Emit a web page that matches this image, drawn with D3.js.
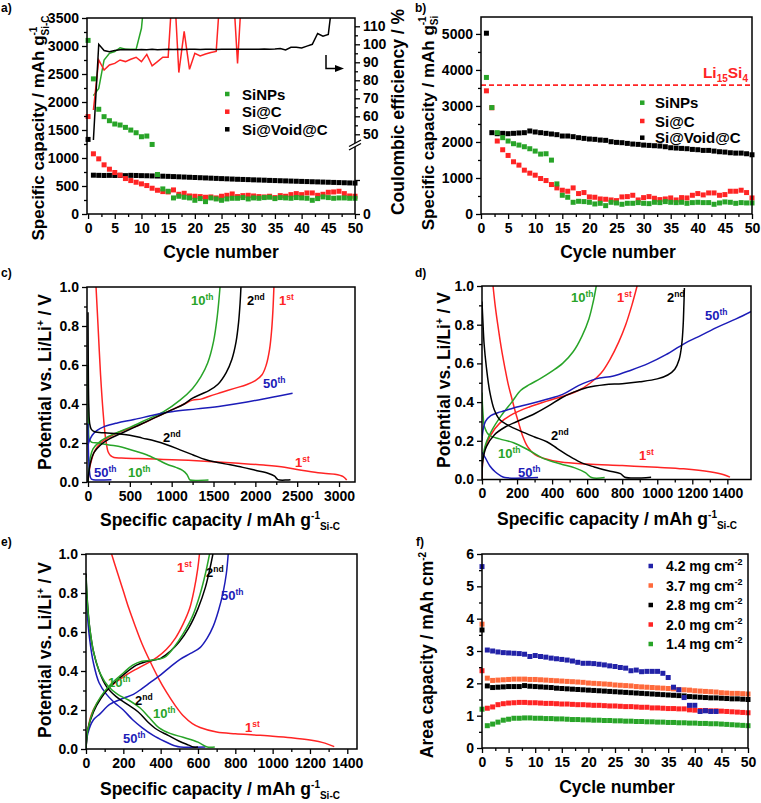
<!DOCTYPE html>
<html><head><meta charset="utf-8">
<script src="https://cdn.jsdelivr.net/npm/d3@7"></script>
<style>
body{margin:0;background:#fff;}
text{font-family:"Liberation Sans",Arial,sans-serif;font-weight:bold;}
</style></head><body>
<script>
// ---------------- DATA ----------------
const cycles = [0,1,2,3,4,5,6,7,8,9,10,11,12,13,14,15,16,17,18,19,20,21,22,23,24,25,26,27,28,29,30,31,32,33,34,35,36,37,38,39,40,41,42,43,44,45,46,47,48,49,50];
// panel a: specific capacity (mAh g-1 Si-C), cycles 0..50
const aSiNPs = [3100,2413,1870,1738,1666,1607,1589,1547,1499,1451,1380,1392,1242,705,448,406,287,317,299,287,245,275,221,287,269,245,269,281,281,293,269,287,281,293,299,275,293,287,281,293,287,281,245,275,305,293,281,287,287,281,281];
const aSiC = [1740,1075,985,878,800,741,693,633,597,567,538,508,460,424,400,394,430,352,370,322,317,311,299,305,287,317,334,358,311,328,334,322,311,305,317,293,328,317,346,364,346,376,376,334,352,388,394,406,364,322,317];
const aVoid = [1332,693,690,688,690,688,690,685,690,688,685,683,680,678,675,672,668,664,660,656,652,648,644,640,636,632,628,624,620,617,614,610,607,604,600,597,594,591,588,585,582,579,576,573,570,567,564,561,558,555,552];
// panel a: coulombic efficiency (%), starting at cycle 1 (values above axis are off-scale)
const ceSiNPs = [71.5,75.5,91.3,95,96,98.1,97.2,97.2,97.2,108.9,140];
const ceSiC = [63.5,91.3,85.7,88.5,89.4,91.3,90.4,91.7,92.8,90.4,94.4,88.1,90.4,92.8,92.8,140,84.3,107.2,86.1,95,93.5,94.6,95.4,96,140,140,140,89.4,140];
const ceVoid = [46.8,100,96.5,95.9,96.5,97,97.1,97,97,97.1,97,97.2,97,97.1,97.2,97.1,97.2,97.1,97.2,97.2,97.1,97.2,97.2,97.1,97.2,97.3,97.2,97.2,97.3,97.2,97.3,97.3,97.4,97.3,97.4,97.6,96.9,98.3,98.3,98,99,100,106,104.5,105.5,130];
// panel b: specific capacity (mAh g-1 Si), cycles 1..50
const bSiNPs = [3792,2955,2258,2119,2026,1952,1914,1868,1812,1747,1664,1673,1496,836,520,465,325,353,344,325,279,297,232,325,307,270,297,297,316,297,288,325,316,344,325,316,325,297,316,325,316,316,270,307,335,325,297,316,307,307];
const bSiC = [3420,2950,2026,1784,1626,1450,1357,1217,1134,1078,985,929,818,725,660,632,725,567,595,474,465,418,409,390,372,474,483,520,390,455,483,437,400,418,446,390,455,446,520,567,530,585,585,520,539,632,632,660,595,446];
const bVoid = [5020,2258,2230,2240,2230,2240,2250,2258,2305,2277,2258,2240,2221,2203,2165,2165,2147,2119,2100,2082,2073,2054,2045,2007,1989,1980,1961,1942,1933,1914,1905,1896,1887,1868,1840,1831,1822,1813,1794,1785,1766,1766,1747,1729,1719,1701,1691,1691,1673,1645];
const li15si4 = 3579;
// panel c: [capacity mAh/g, potential V]
const cDis1 = [[96,1.0],[120,0.8],[150,0.55],[180,0.36],[205,0.24],[222,0.19],[240,0.155],[270,0.135],[310,0.126],[400,0.123],[600,0.12],[900,0.116],[1200,0.111],[1500,0.104],[1800,0.096],[2100,0.087],[2350,0.076],[2550,0.06],[2750,0.047],[2950,0.04],[3050,0.028],[3092,0.01]];
const cCha1 = [[0,0],[15,0.06],[40,0.11],[80,0.16],[150,0.2],[250,0.23],[400,0.26],[600,0.29],[800,0.33],[1000,0.37],[1150,0.4],[1250,0.42],[1350,0.425],[1450,0.44],[1600,0.46],[1750,0.48],[1900,0.5],[2000,0.52],[2080,0.55],[2130,0.6],[2170,0.68],[2195,0.78],[2210,0.88],[2222,1.0]];
const cDis2 = [[0,0.87],[2,0.7],[5,0.5],[10,0.38],[20,0.3],[40,0.27],[80,0.258],[200,0.252],[350,0.248],[500,0.24],[650,0.225],[800,0.21],[950,0.19],[1100,0.165],[1250,0.14],[1400,0.115],[1550,0.1],[1700,0.088],[1850,0.075],[2000,0.06],[2150,0.045],[2230,0.03],[2270,0.012],[2420,0.012]];
const cCha2 = [[0,0],[10,0.05],[30,0.1],[70,0.15],[150,0.19],[250,0.22],[400,0.25],[600,0.29],[800,0.33],[1000,0.37],[1150,0.4],[1250,0.43],[1350,0.45],[1450,0.47],[1550,0.5],[1650,0.56],[1720,0.63],[1770,0.72],[1800,0.82],[1818,0.92],[1828,1.0]];
const cDis10 = [[0,0.6],[2,0.4],[6,0.28],[15,0.22],[40,0.205],[120,0.2],[250,0.19],[400,0.18],[550,0.16],[700,0.14],[850,0.11],[950,0.09],[1050,0.075],[1130,0.06],[1180,0.04],[1210,0.015],[1220,0.01],[1440,0.01]];
const cCha10 = [[0,0],[8,0.06],[25,0.12],[60,0.17],[150,0.21],[300,0.245],[500,0.28],[700,0.32],[900,0.36],[1100,0.42],[1250,0.48],[1350,0.54],[1430,0.61],[1500,0.72],[1545,0.85],[1578,1.0]];
const cDis50 = [[0,0.3],[3,0.2],[8,0.12],[15,0.07],[25,0.03],[40,0.015],[60,0.012],[280,0.012]];
const cCha50 = [[0,0.19],[15,0.21],[50,0.24],[100,0.262],[200,0.285],[350,0.303],[550,0.32],[800,0.345],[1000,0.36],[1300,0.375],[1600,0.39],[1900,0.41],[2200,0.435],[2445,0.455]];
// panel d
const dDis1 = [[63,1.0],[75,0.9],[90,0.8],[110,0.68],[130,0.58],[150,0.49],[170,0.42],[190,0.35],[210,0.29],[230,0.23],[260,0.17],[300,0.13],[350,0.11],[450,0.09],[600,0.08],[800,0.072],[1000,0.063],[1150,0.055],[1300,0.04],[1380,0.025],[1415,0.012]];
const dCha1 = [[0,0],[5,0.1],[20,0.17],[50,0.23],[100,0.29],[180,0.34],[270,0.375],[370,0.405],[460,0.43],[550,0.46],[620,0.5],[680,0.55],[730,0.62],[780,0.71],[820,0.8],[855,0.9],[885,1.0]];
const dDis2 = [[0,0.92],[5,0.82],[12,0.7],[25,0.58],[45,0.45],[70,0.36],[100,0.31],[150,0.28],[220,0.25],[300,0.22],[370,0.195],[430,0.16],[490,0.125],[560,0.09],[640,0.065],[720,0.045],[790,0.03],[815,0.012],[965,0.012]];
const dCha2 = [[0,0],[5,0.1],[25,0.17],[70,0.23],[130,0.27],[200,0.3],[300,0.34],[380,0.38],[450,0.42],[520,0.45],[600,0.475],[700,0.49],[800,0.495],[900,0.505],[1000,0.52],[1060,0.54],[1100,0.57],[1125,0.62],[1140,0.7],[1148,0.8],[1152,0.9],[1155,0.99]];
const dDis10 = [[0,0.45],[5,0.35],[15,0.27],[40,0.23],[100,0.21],[180,0.19],[270,0.15],[360,0.105],[450,0.08],[530,0.06],[590,0.035],[625,0.01],[700,0.01]];
const dCha10 = [[0,0.05],[3,0.1],[20,0.18],[60,0.26],[110,0.33],[170,0.4],[220,0.46],[270,0.49],[330,0.52],[400,0.56],[460,0.6],[520,0.66],[570,0.74],[610,0.83],[635,0.92],[652,1.0]];
const dDis50 = [[0,0.14],[20,0.11],[45,0.07],[75,0.04],[105,0.02],[130,0.01],[320,0.01]];
const dCha50 = [[0,0.2],[5,0.25],[20,0.3],[50,0.33],[90,0.345],[130,0.355],[180,0.37],[270,0.39],[370,0.415],[460,0.44],[550,0.485],[650,0.52],[750,0.535],[850,0.565],[950,0.6],[1050,0.645],[1150,0.7],[1250,0.745],[1350,0.79],[1450,0.83],[1540,0.87]];
// panel e
const eDis1 = [[137,1.0],[170,0.9],[200,0.81],[230,0.72],[260,0.64],[300,0.54],[343,0.45],[390,0.36],[432,0.29],[480,0.22],[521,0.17],[570,0.13],[611,0.11],[700,0.087],[800,0.078],[900,0.072],[1000,0.066],[1100,0.058],[1200,0.046],[1280,0.03],[1330,0.012]];
const eCha1 = [[0,0],[10,0.1],[30,0.18],[70,0.25],[120,0.31],[200,0.37],[270,0.41],[330,0.44],[380,0.47],[430,0.51],[480,0.57],[520,0.64],[555,0.72],[580,0.82],[598,0.92],[608,1.0]];
const eDis2 = [[0,0.9],[8,0.75],[20,0.62],[40,0.5],[70,0.4],[110,0.32],[160,0.27],[220,0.23],[280,0.19],[330,0.14],[380,0.1],[440,0.07],[500,0.04],[550,0.02],[575,0.01],[600,0.01]];
const eCha2 = [[0,0],[10,0.1],[40,0.19],[80,0.26],[130,0.32],[200,0.38],[270,0.43],[330,0.45],[400,0.465],[450,0.5],[500,0.55],[550,0.62],[600,0.72],[640,0.83],[665,0.93],[680,1.0]];
const eDis10 = [[0,0.88],[8,0.74],[20,0.62],[45,0.48],[80,0.38],[120,0.32],[170,0.28],[230,0.25],[290,0.21],[340,0.16],[390,0.11],[450,0.08],[520,0.06],[600,0.035],[650,0.01],[690,0.01]];
const eCha10 = [[0,0],[10,0.1],[40,0.2],[80,0.27],[130,0.33],[200,0.39],[250,0.43],[300,0.45],[350,0.455],[420,0.47],[470,0.52],[520,0.59],[570,0.68],[610,0.79],[640,0.9],[662,1.0]];
const eDis50 = [[0,0.82],[8,0.68],[20,0.56],[40,0.44],[70,0.34],[110,0.28],[150,0.24],[200,0.2],[250,0.15],[300,0.11],[360,0.07],[420,0.04],[480,0.015],[505,0.01],[640,0.01]];
const eCha50 = [[0,0],[10,0.08],[40,0.15],[75,0.18],[129,0.23],[200,0.26],[254,0.28],[300,0.31],[343,0.34],[400,0.38],[450,0.42],[504,0.46],[560,0.49],[611,0.52],[650,0.57],[682,0.63],[710,0.71],[736,0.81],[752,0.9],[762,1.0]];
// panel f: area capacity (mAh cm-2)
const f42 = [5.61,3.03,3.0,2.97,2.95,2.94,2.93,2.92,2.9,2.83,2.86,2.83,2.81,2.78,2.76,2.74,2.72,2.69,2.65,2.62,2.62,2.61,2.59,2.57,2.54,2.52,2.49,2.47,2.39,2.41,2.36,2.37,2.37,2.37,2.31,2.18,1.88,1.8,1.56,1.32,1.32,1.13,1.15,1.13,1.13];
const f37 = [3.83,2.16,2.09,2.1,2.11,2.12,2.13,2.13,2.13,2.12,2.12,2.11,2.1,2.09,2.08,2.07,2.06,2.05,2.04,2.03,2.01,2.0,1.99,1.98,1.97,1.95,1.94,1.93,1.92,1.9,1.89,1.88,1.87,1.86,1.85,1.84,1.83,1.81,1.8,1.79,1.77,1.76,1.75,1.74,1.73,1.71,1.7,1.69,1.69,1.68,1.67];
const f28 = [3.65,1.92,1.87,1.88,1.89,1.9,1.9,1.9,1.93,1.91,1.9,1.89,1.88,1.87,1.85,1.84,1.83,1.82,1.81,1.8,1.79,1.78,1.77,1.76,1.75,1.74,1.73,1.72,1.71,1.7,1.69,1.68,1.67,1.66,1.65,1.64,1.63,1.62,1.61,1.59,1.58,1.57,1.56,1.55,1.55,1.54,1.53,1.52,1.52,1.51,1.5];
const f20 = [2.39,1.23,1.27,1.34,1.37,1.39,1.4,1.41,1.41,1.4,1.4,1.39,1.38,1.38,1.37,1.36,1.36,1.35,1.34,1.34,1.33,1.32,1.32,1.31,1.3,1.3,1.29,1.28,1.28,1.27,1.26,1.26,1.24,1.24,1.23,1.22,1.22,1.21,1.21,1.18,1.17,1.16,1.16,1.15,1.15,1.14,1.13,1.12,1.11,1.1,1.09];
const f14 = [1.2,0.69,0.74,0.8,0.86,0.89,0.92,0.92,0.93,0.93,0.92,0.92,0.91,0.91,0.9,0.9,0.89,0.88,0.88,0.87,0.87,0.86,0.86,0.85,0.85,0.84,0.84,0.83,0.83,0.82,0.82,0.81,0.81,0.8,0.8,0.79,0.79,0.78,0.78,0.77,0.77,0.76,0.76,0.75,0.75,0.74,0.73,0.72,0.71,0.7,0.69];
const fLegend = ["4.2 mg cm","3.7 mg cm","2.8 mg cm","2.0 mg cm","1.4 mg cm"];
const abLegend = ["SiNPs","Si@C","Si@Void@C"];
// ticks
const cycleTicks = [0,5,10,15,20,25,30,35,40,45,50];
const cycleMinor = [2.5,7.5,12.5,17.5,22.5,27.5,32.5,37.5,42.5,47.5];
const aYTicks = [0,500,1000,1500,2000,2500,3000,3500];
const aYMinor = [250,750,1250,1750,2250,2750,3250];
const ceTicks = [50,60,70,80,90,100,110];
const ceMinor = [55,65,75,85,95,105];
const bYTicks = [0,1000,2000,3000,4000,5000];
const bYMinor = [500,1500,2500,3500,4500];
const cXTicks = [0,500,1000,1500,2000,2500,3000];
const cXMinor = [250,750,1250,1750,2250,2750];
const deXTicks = [0,200,400,600,800,1000,1200,1400];
const deXMinor = [100,300,500,700,900,1100,1300];
const vTicks = [0,0.2,0.4,0.6,0.8,1.0];
const vMinor = [0.1,0.3,0.5,0.7,0.9];
const fYTicks = [0,1,2,3,4,5,6];
const fYMinor = [0.5,1.5,2.5,3.5,4.5,5.5];

// ---------------- DRAWING ----------------
const COL = {green:"#28a428", red:"#ff2424", black:"#000000", blue:"#1c1cb8", orange:"#ff6a3c", fblue:"#2222a8"};
const TICK = 14, TITLE = 17.5;
const svg = d3.select("body").append("svg").attr("width",761).attr("height",803).style("display","block");
const defs = svg.append("defs");

function makePanel(id, xDom, xRange, yDom, yRange){
  const x = d3.scaleLinear().domain(xDom).range(xRange);
  const y = d3.scaleLinear().domain(yDom).range(yRange);
  defs.append("clipPath").attr("id","clip-"+id).append("rect")
    .attr("x",xRange[0]).attr("y",yRange[1]).attr("width",xRange[1]-xRange[0]).attr("height",yRange[0]-yRange[1]);
  return {x,y,clip:`url(#clip-${id})`};
}
function axis(kind, scale, tx, ty, majors, minors, fmt){
  const gen = {bottom:d3.axisBottom,left:d3.axisLeft,right:d3.axisRight}[kind];
  const gmin = svg.append("g").attr("transform",`translate(${tx},${ty})`)
    .call(gen(scale).tickValues(minors).tickSize(3).tickFormat(""));
  gmin.select(".domain").remove();
  gmin.selectAll("line").attr("stroke-width",1.3);
  const gmaj = svg.append("g").attr("transform",`translate(${tx},${ty})`)
    .call(gen(scale).tickValues(majors).tickSize(5).tickPadding(kind==="bottom"?4:3).tickFormat(fmt));
  gmaj.select(".domain").remove();
  gmaj.attr("font-family",null).attr("font-size",null);
  gmaj.selectAll("line").attr("stroke-width",1.3);
  gmaj.selectAll("text").attr("font-size",TICK).attr("fill","#000");
  return gmaj;
}
function frame(P){
  const [x0,x1]=P.x.range(), [y0,y1]=P.y.range();
  svg.append("rect").attr("x",x0).attr("y",y1).attr("width",x1-x0).attr("height",y0-y1)
    .attr("fill","none").attr("stroke","#000").attr("stroke-width",1.5);
}
function squares(P, xs, ys, color, size){
  size = size||5;
  svg.append("g").selectAll("rect").data(ys).join("rect")
    .attr("x",(d,i)=>P.x(xs[i])-size/2).attr("y",d=>P.y(d)-size/2)
    .attr("width",size).attr("height",size).attr("fill",color);
}
function curve(P, pts, color){
  svg.append("path").datum(pts).attr("clip-path",P.clip).attr("fill","none")
    .attr("stroke",color).attr("stroke-width",1.5).attr("stroke-linejoin","round")
    .attr("d", d3.line().x(d=>P.x(d[0])).y(d=>P.y(d[1])).curve(d3.curveCatmullRom.alpha(0.5)));
}
function rich(parent, x, y, parts, size, color, anchor){
  const t = parent.append("text").attr("x",x).attr("y",y).attr("font-size",size)
    .attr("fill",color||"#000").attr("text-anchor",anchor||"start");
  let prev=null;
  parts.forEach(p=>{
    const s = t.append("tspan").text(p.t);
    if(p.size) s.attr("font-size",p.size);
    if(p.dy) s.attr("dy",p.dy);
    if(p.back && prev) s.attr("dx", -prev.node().getComputedTextLength());
    prev = s;
  });
  return t;
}
function rotTitle(x, y, parts, size){
  const g = svg.append("g").attr("transform",`translate(${x},${y}) rotate(-90)`);
  rich(g, 0, 0, parts, size, "#000", "middle");
}
function ordLabel(x, y, num, sup, color){
  rich(svg, x, y, [{t:num},{t:sup,size:8.5,dy:-5}], 13, color);
}
function panelLetter(x,y,t){ svg.append("text").attr("x",x).attr("y",y).attr("font-size",12).text(t); }

// ---------- panel a ----------
const A = makePanel("a",[-0.2,50],[87,355],[0,3500],[214,18]);
const yCE = d3.scaleLinear().domain([50,110]).range([134.3,26.3]);
const ceLine = d3.line().x(d=>A.x(d[0])).y(d=>yCE(d[1]));
[[ceSiNPs,COL.green],[ceSiC,COL.red],[ceVoid,COL.black]].forEach(([arr,c])=>{
  svg.append("path").datum(arr.map((v,i)=>[cycles[i+1],v])).attr("clip-path",A.clip)
    .attr("fill","none").attr("stroke",c).attr("stroke-width",1.5).attr("d",ceLine);
});
squares(A, cycles, aVoid, COL.black);
squares(A, cycles, aSiC, COL.red);
squares(A, cycles, aSiNPs, COL.green);
frame(A);
axis("bottom", A.x, 0, 214, cycleTicks, cycleMinor, d3.format("d"));
axis("left", A.y, 87, 0, aYTicks, aYMinor, d3.format("d"));
axis("right", yCE, 355, 0, ceTicks, ceMinor, d3.format("d"));
const yCElow = d3.scaleLinear().domain([0,10]).range([214,180]);
axis("right", yCElow, 355, 0, [0,10], [], d=>d===0?"0":"");
svg.append("polygon").attr("points","349,146.5 361,140 361,143.5 349,150").attr("fill","#fff");
svg.append("line").attr("x1",349).attr("y1",146.5).attr("x2",361).attr("y2",140).attr("stroke","#000").attr("stroke-width",1.3);
svg.append("line").attr("x1",349).attr("y1",150).attr("x2",361).attr("y2",143.5).attr("stroke","#000").attr("stroke-width",1.3);
svg.append("path").attr("d","M326,55 V68.5 H336").attr("fill","none").attr("stroke","#000").attr("stroke-width",1.5);
svg.append("path").attr("d","M335,65 L344,68.5 L335,72 Z").attr("fill","#000");
[[COL.green,94],[COL.red,111.7],[COL.black,129.3]].forEach(([c,yy],i)=>{
  svg.append("rect").attr("x",225).attr("y",yy-2.25).attr("width",4.5).attr("height",4.5).attr("fill",c);
  svg.append("text").attr("x",242).attr("y",yy+5.5).attr("font-size",15).text(abLegend[i]);
});
rotTitle(44, 128, [{t:"Specific capacity / mAh g"},{t:"-1",size:10,dy:-7},{t:"Si-C",size:10,dy:12,back:true}], 17);
rotTitle(404, 112, [{t:"Coulombic efficiency / %"}], TITLE);
svg.append("text").attr("x",221).attr("y",258).attr("text-anchor","middle").attr("font-size",TITLE).text("Cycle number");
panelLetter(1,12,"a)");

// ---------- panel b ----------
const B = makePanel("b",[0,50],[481,752],[0,5470],[214,17]);
const bCycles = cycles.slice(1);
svg.append("line").attr("x1",481).attr("x2",752).attr("y1",B.y(li15si4)).attr("y2",B.y(li15si4))
  .attr("stroke",COL.red).attr("stroke-width",1.8).attr("stroke-dasharray","5,3");
rich(svg, 748, 78, [{t:"Li"},{t:"15",size:10,dy:4},{t:"Si",dy:-4},{t:"4",size:10,dy:4}], 15.5, COL.red, "end");
squares(B, bCycles, bVoid, COL.black);
squares(B, bCycles, bSiC, COL.red);
squares(B, bCycles, bSiNPs, COL.green);
frame(B);
axis("bottom", B.x, 0, 214, cycleTicks, cycleMinor, d3.format("d"));
axis("left", B.y, 481, 0, bYTicks, bYMinor, d3.format("d"));
[[COL.green,102.7],[COL.red,121],[COL.black,137.7]].forEach(([c,yy],i)=>{
  svg.append("rect").attr("x",640).attr("y",yy-2.25).attr("width",4.5).attr("height",4.5).attr("fill",c);
  svg.append("text").attr("x",655).attr("y",yy+5.5).attr("font-size",15).text(abLegend[i]);
});
rotTitle(434, 123, [{t:"Specific capacity / mAh g"},{t:"Si",size:10,dy:4},{t:"-1",size:10,dy:-12,back:true}], 17);
svg.append("text").attr("x",618).attr("y",258).attr("text-anchor","middle").attr("font-size",TITLE).text("Cycle number");
panelLetter(415,12,"b)");

// ---------- panel c ----------
const Cp = makePanel("c",[-12,3191],[87,355],[0,1],[482,287]);
curve(Cp,cDis1,COL.red); curve(Cp,cCha1,COL.red);
curve(Cp,cDis10,COL.green); curve(Cp,cCha10,COL.green);
curve(Cp,cDis50,COL.blue); curve(Cp,cCha50,COL.blue);
curve(Cp,cDis2,COL.black); curve(Cp,cCha2,COL.black);
frame(Cp);
axis("bottom", Cp.x, 0, 482, cXTicks, cXMinor, d3.format("d"));
axis("left", Cp.y, 87, 0, vTicks, vMinor, d3.format(".1f"));
ordLabel(191,305,"10","th",COL.green); ordLabel(247,305,"2","nd",COL.black); ordLabel(279,305,"1","st",COL.red);
ordLabel(263,388,"50","th",COL.blue); ordLabel(163,442,"2","nd",COL.black); ordLabel(295,467,"1","st",COL.red);
ordLabel(94,477,"50","th",COL.blue); ordLabel(128,477,"10","th",COL.green);
rotTitle(51, 382, [{t:"Potential vs. Li/Li"},{t:"+",size:10,dy:-7},{t:" / V",dy:7}], TITLE);
rich(svg, 100, 526, [{t:"Specific capacity / mAh g"},{t:"-1",size:10,dy:-7},{t:"Si-C",size:10,dy:11}], TITLE);
panelLetter(1,277,"c)");

// ---------- panel d ----------
const D = makePanel("d",[0,1535],[482,751],[0,1],[479.5,286]);
curve(D,dDis1,COL.red); curve(D,dCha1,COL.red);
curve(D,dDis10,COL.green); curve(D,dCha10,COL.green);
curve(D,dDis50,COL.blue); curve(D,dCha50,COL.blue);
curve(D,dDis2,COL.black); curve(D,dCha2,COL.black);
frame(D);
axis("bottom", D.x, 0, 479.5, deXTicks, deXMinor, d3.format("d"));
axis("left", D.y, 482, 0, vTicks, vMinor, d3.format(".1f"));
ordLabel(571,302,"10","th",COL.green); ordLabel(617,302,"1","st",COL.red); ordLabel(667,302,"2","nd",COL.black);
ordLabel(705,320,"50","th",COL.blue); ordLabel(551,440,"2","nd",COL.black); ordLabel(498,458,"10","th",COL.green);
ordLabel(639,460,"1","st",COL.red); ordLabel(518,477,"50","th",COL.blue);
rotTitle(450, 380, [{t:"Potential vs. Li/Li"},{t:"+",size:10,dy:-7},{t:" / V",dy:7}], TITLE);
rich(svg, 497, 525, [{t:"Specific capacity / mAh g"},{t:"-1",size:10,dy:-7},{t:"Si-C",size:10,dy:11}], TITLE);
panelLetter(415,277,"d)");

// ---------- panel e ----------
const E = makePanel("e",[0,1452],[86,357],[0,1],[749,554]);
curve(E,eDis1,COL.red); curve(E,eCha1,COL.red);
curve(E,eDis50,COL.blue); curve(E,eCha50,COL.blue);
curve(E,eDis2,COL.black); curve(E,eCha2,COL.black);
curve(E,eDis10,COL.green); curve(E,eCha10,COL.green);
frame(E);
axis("bottom", E.x, 0, 749, deXTicks, deXMinor, d3.format("d"));
axis("left", E.y, 86, 0, vTicks, vMinor, d3.format(".1f"));
ordLabel(177,572,"1","st",COL.red); ordLabel(206,577,"2","nd",COL.black); ordLabel(221,600,"50","th",COL.blue);
ordLabel(108,687,"10","th",COL.green); ordLabel(135,705,"2","nd",COL.black); ordLabel(153,718,"10","th",COL.green);
ordLabel(245,732,"1","st",COL.red); ordLabel(123,743,"50","th",COL.blue);
rotTitle(51, 650, [{t:"Potential vs. Li/Li"},{t:"+",size:10,dy:-7},{t:" / V",dy:7}], TITLE);
rich(svg, 100, 795, [{t:"Specific capacity / mAh g"},{t:"-1",size:10,dy:-7},{t:"Si-C",size:10,dy:11}], TITLE);
panelLetter(1,546,"e)");

// ---------- panel f ----------
const F = makePanel("f",[0,50],[482,748],[0,6],[748,554]);
squares(F, cycles, f14, COL.green);
squares(F, cycles, f20, COL.red);
squares(F, cycles, f28, COL.black);
squares(F, cycles, f37, COL.orange);
squares(F, cycles, f42, COL.fblue);
frame(F);
axis("bottom", F.x, 0, 748, cycleTicks, cycleMinor, d3.format("d"));
axis("left", F.y, 482, 0, fYTicks, fYMinor, d3.format("d"));
[[COL.fblue,566],[COL.orange,585.5],[COL.black,605],[COL.red,624.5],[COL.green,644]].forEach(([c,yy],i)=>{
  svg.append("rect").attr("x",648.5).attr("y",yy-2.25).attr("width",4.5).attr("height",4.5).attr("fill",c);
  rich(svg, 666, yy+5, [{t:fLegend[i]},{t:"-2",size:9,dy:-6}], 14, "#000");
});
rotTitle(433, 655, [{t:"Area capacity / mAh cm"},{t:"-2",size:10,dy:-7}], TITLE);
svg.append("text").attr("x",617).attr("y",793).attr("text-anchor","middle").attr("font-size",TITLE).text("Cycle number");
panelLetter(416,546,"f)");
</script>
</body></html>
